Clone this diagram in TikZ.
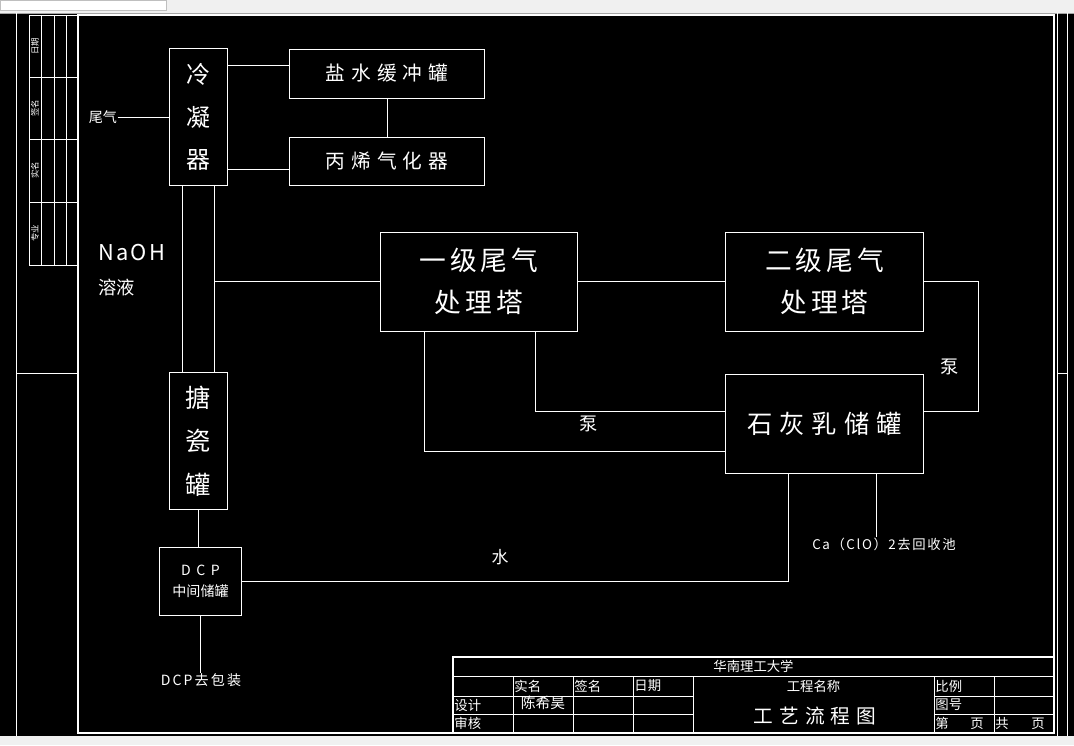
\documentclass[tikz,border=0pt]{standalone}
\usepackage{fontspec}
\newfontfamily\cjk{Noto Sans CJK SC}
\definecolor{hgrau}{HTML}{F0F0F0}

\begin{document}
\begin{tikzpicture}[x=0.025cm, y=-0.025cm, line width=0.7pt, white,
        box/.style={draw, rectangle, inner sep=0pt, align=center},
        lbl/.style={inner sep=0pt, align=center},
        big/.style={font=\cjk\fontsize{14}{17}\selectfont\addfontfeature{LetterSpace=30}},
        huge/.style={font=\cjk\fontsize{19}{30}\selectfont\addfontfeature{LetterSpace=15}},
        tall/.style={font=\cjk\fontsize{17}{30.5}\selectfont},
        small/.style={font=\cjk\fontsize{9.5}{12}\selectfont},
        tiny/.style={font=\cjk\fontsize{6}{7}\selectfont}]
    \useasboundingbox (0,0) rectangle (1074,745);
    \fill[black] (0,13) rectangle (1074,736);
    \fill[hgrau] (0,0) rectangle (1074,13);
    \fill[hgrau] (0,736) rectangle (1074,745);
    \draw[gray!70] (0,13) -- (1074,13);
    \draw[gray!50, fill=white, line width=0.4pt] (0,0) rectangle (166,10);

    \draw (16,13) -- (16,736);
    \draw (16,373) -- (78,373);
    \draw (1057,13) -- (1057,736);
    \draw (1067,13) -- (1067,736);
    \draw (1057,373) -- (1067,373);
    \draw (29,15) rectangle (78,265);
    \foreach \x in {41,54,66} \draw (\x,15) -- (\x,265);
    \foreach \y in {77,139,202} \draw (29,\y) -- (78,\y);
    \foreach \y/\t [count=\i] in {46/日期,108/签名,170/实名,233/专业}
        \node[lbl, tiny, rotate=90] (side\i) at (35,\y) {\t};
    \draw[line width=1.4pt] (78,15) rectangle (1054,733);

    \node[box, tall, minimum width=1.45cm, minimum height=3.4cm] (cond) at (198,117) {冷\\凝\\器};
    \node[box, big, minimum width=4.85cm, minimum height=1.225cm] (brine) at (387,73.5) {盐水缓冲罐};
    \node[box, big, minimum width=4.85cm, minimum height=1.2cm] (prop) at (387,161) {丙烯气化器};
    \node[box, tall, font=\cjk\fontsize{18}{31}\selectfont, minimum width=1.45cm, minimum height=3.4cm] (tank) at (198,441) {搪\\瓷\\罐};
    \node[box, huge, minimum width=4.9cm, minimum height=2.475cm] (tw1) at (479,281.5) {一级尾气\\处理塔};
    \node[box, huge, minimum width=4.925cm, minimum height=2.475cm] (tw2) at (824.5,281.5) {二级尾气\\处理塔};
    \node[box, font=\cjk\fontsize{18}{22}\selectfont\addfontfeature{LetterSpace=28}, minimum width=4.925cm, minimum height=2.475cm] (lime) at (824.5,423.5) {石灰乳储罐};
    \node[box, font=\cjk\fontsize{10}{15}\selectfont, minimum width=2.025cm, minimum height=1.7cm] (dcp) at (200.5,581) {{\addfontfeature{LetterSpace=40}DCP}\\中间储罐};

    \node[lbl, small, font=\cjk\fontsize{10}{12}\selectfont] (tail) at (103,117) {尾气};
    \node[lbl, anchor=west, font=\cjk\fontsize{15.5}{18}\selectfont\addfontfeature{LetterSpace=10}] (naoh) at (98,253) {NaOH};
    \node[lbl, anchor=west, font=\cjk\fontsize{13}{16}\selectfont] (soln) at (98,287) {溶液};
    \node[lbl, font=\cjk\fontsize{13}{16}\selectfont] (pump1) at (950,367) {泵};
    \node[lbl, font=\cjk\fontsize{13}{16}\selectfont] (pump2) at (589,424) {泵};
    \node[lbl, font=\cjk\fontsize{12}{14}\selectfont] (water) at (500,557) {水};
    \node[lbl, small, font=\cjk\fontsize{9.5}{12}\selectfont\addfontfeature{LetterSpace=12}] (caclo) at (884,544) {Ca（ClO）2去回收池};
    \node[lbl, small, font=\cjk\fontsize{10}{12}\selectfont\addfontfeature{LetterSpace=15}] (pack) at (201,680) {DCP去包装};

    \coordinate (b1) at ([yshift=0.21cm]brine.west);
    \coordinate (p1) at ([yshift=-0.2cm]prop.west);
    \coordinate (j1) at ([xshift=-0.4cm]cond.south);
    \coordinate (j2) at ([xshift=0.4cm]cond.south);
    \coordinate (l1) at ([yshift=0.29cm]lime.east);
    \coordinate (l2) at ([yshift=0.29cm]lime.west);
    \coordinate (l3) at ([yshift=-0.69cm]lime.west);
    \coordinate (l4) at ([xshift=-0.89cm]lime.south);
    \coordinate (l5) at ([xshift=1.31cm]lime.south);

    \draw (tail.east) -- (tail.east -| cond.west);
    \draw (b1 -| cond.east) -- (b1);
    \draw (p1 -| cond.east) -- (p1);
    \draw (brine.south) -- (prop.north);
    \draw (j1) -- (j1 |- tank.north);
    \draw (j2) -- (j2 |- tank.north);
    \draw (tw1.west -| j2) -- (tw1.west);
    \draw (tw1.east) -- (tw2.west);
    \draw (tw2.east) -- ++(55,0) |- (l1);
    \draw ([xshift=1.4cm]tw1.south) |- (l2);
    \draw ([xshift=-1.35cm]tw1.south) |- (l3);
    \draw (l4) |- (dcp.east);
    \draw (l5) -- (l5 |- caclo.north);
    \draw (tank.south) -- (tank.south |- dcp.north);
    \draw (dcp.south) -- (dcp.south |- pack.north);

    \draw[line width=1.4pt] (453,657) rectangle (1054,733);
    \draw (453,676) -- (1054,676);
    \draw (453,696) -- (693,696);
    \draw (453,714) -- (693,714);
    \draw (934,696) -- (1054,696);
    \draw (934,714) -- (1054,714);
    \foreach \x in {513,573,633,693,934,994} \draw (\x,676) -- (\x,733);
    \node[lbl, small] (uni) at (753.5,666.5) {华南理工大学};
    \node[lbl, small, anchor=west] (hname) at (514,686) {实名};
    \node[lbl, small, anchor=west] (hsign) at (574,686) {签名};
    \node[lbl, small, anchor=west] (hdate) at (634,686) {日期};
    \node[lbl, small] (hproj) at (813.5,686) {工程名称};
    \node[lbl, small, anchor=west] (hscale) at (935,686) {比例};
    \node[lbl, small, anchor=west] (rdes) at (454,705) {设计};
    \node[lbl, small, font=\cjk\fontsize{10.5}{12}\selectfont] (rname) at (543,703) {陈希昊};
    \node[lbl, small, anchor=west] (rchk) at (454,723.5) {审核};
    \node[lbl, font=\cjk\fontsize{14}{16}\selectfont\addfontfeature{LetterSpace=30}] (title) at (815,716) {工艺流程图};
    \node[lbl, small, anchor=west] (hno) at (935,705) {图号};
    \node[lbl, small, anchor=west] (pg1) at (935,723.5) {第};
    \node[lbl, small] (pg2) at (977,723.5) {页};
    \node[lbl, small, anchor=west] (pg3) at (995,723.5) {共};
    \node[lbl, small] (pg4) at (1038,723.5) {页};
\end{tikzpicture}
\end{document}
